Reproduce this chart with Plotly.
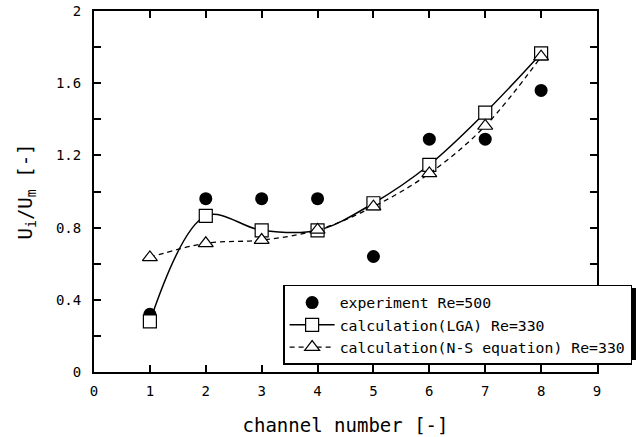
import plotly.graph_objects as go

channels = [1, 2, 3, 4, 5, 6, 7, 8]
experiment = [0.32, 0.96, 0.96, 0.96, 0.64, 1.29, 1.29, 1.56]
lga = [0.28, 0.865, 0.785, 0.785, 0.935, 1.148, 1.437, 1.765]
ns_eq = [0.635, 0.713, 0.731, 0.787, 0.916, 1.10, 1.363, 1.747]

x_ticks = [0, 1, 2, 3, 4, 5, 6, 7, 8, 9]
y_ticks = [0, 0.4, 0.8, 1.2, 1.6, 2]
y_labels = ["0", "0.4", "0.8", "1.2", "1.6", "2"]

MONO = "DejaVu Sans Mono, Liberation Mono, monospace"

fig = go.Figure()
fig.add_trace(go.Scatter(
    x=channels, y=experiment, mode="markers", name="experiment Re=500",
    marker=dict(symbol="circle", size=13, color="black"),
))
fig.add_trace(go.Scatter(
    x=channels, y=lga, mode="lines+markers", name="calculation(LGA) Re=330",
    line=dict(color="black", width=1.5, shape="spline", smoothing=1),
    marker=dict(symbol="square", size=13, color="white",
                line=dict(color="black", width=1.2)),
))
fig.add_trace(go.Scatter(
    x=channels, y=ns_eq, mode="lines+markers",
    name="calculation(N-S equation) Re=330",
    line=dict(color="black", width=1.3, dash="5px,4px", shape="spline", smoothing=1),
    marker=dict(symbol="triangle-up", size=13, color="white",
                line=dict(color="black", width=1.2)),
))

axis_common = dict(
    showline=True, linecolor="black", linewidth=2, mirror="ticks",
    ticks="inside", tickcolor="black", tickwidth=1.5, ticklen=7,
    showgrid=False, zeroline=False, automargin=False,
    tickfont=dict(family=MONO, size=14, color="black"),
)

fig.update_xaxes(
    range=[0, 9], tickvals=x_ticks, ticklabelstandoff=5, **axis_common,
    title=dict(text="channel number [-]", font=dict(family=MONO, size=19, color="black"),
               standoff=21),
)
fig.update_yaxes(
    range=[0, 2], tickvals=y_ticks, ticktext=y_labels, ticklabelstandoff=8,
    **axis_common,
    minor=dict(dtick=0.2, tick0=0, ticks="inside", ticklen=7, tickwidth=1.5,
               tickcolor="black", showgrid=False),
    title=dict(text="U<sub>i</sub>/U<sub>m</sub> [-]",
               font=dict(family=MONO, size=19, color="black"), standoff=18),
)

# drop shadow behind the legend box
fig.add_shape(type="rect", xref="paper", yref="paper",
              x0=0.3817, x1=1.0775, y0=0.0332, y1=0.2327,
              fillcolor="black", line=dict(width=0), layer="above")

fig.update_layout(
    width=640, height=437,
    margin=dict(l=94, r=43, t=11, b=65, autoexpand=False),
    paper_bgcolor="white", plot_bgcolor="white",
    showlegend=True,
    legend=dict(
        x=0.376, y=0.241, xanchor="left", yanchor="top",
        bgcolor="white", bordercolor="black", borderwidth=1.5,
        font=dict(family=MONO, size=14.8, color="black"),
        tracegroupgap=0, itemwidth=45,
    ),
)

fig.write_html("out.html")
